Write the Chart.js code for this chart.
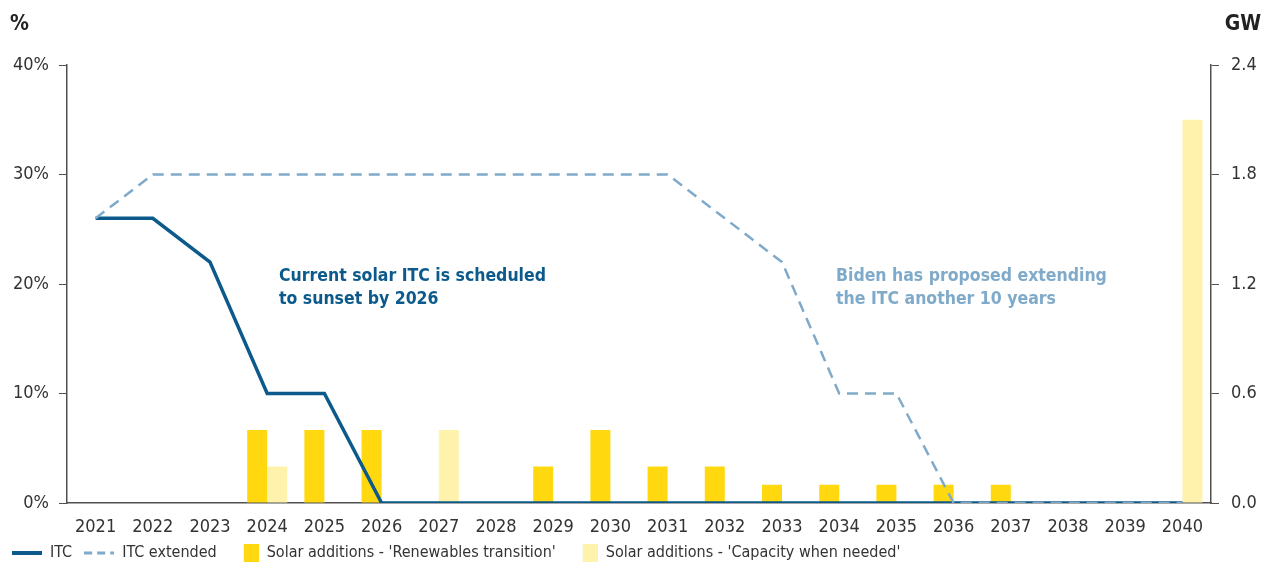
<!DOCTYPE html>
<html>
<head>
<meta charset="utf-8">
<script src="https://cdn.jsdelivr.net/npm/chart.js@4/dist/chart.umd.min.js"></script>
<style>
  html, body { margin: 0; padding: 0; background: #fff; }
  #wrap { width: 1264px; height: 562px; position: relative; }
</style>
</head>
<body>
<div id="wrap"><canvas id="chart"></canvas></div>
<script>
const years = ['2021', '2022', '2023', '2024', '2025', '2026', '2027', '2028', '2029', '2030',
               '2031', '2032', '2033', '2034', '2035', '2036', '2037', '2038', '2039', '2040'];
// ITC rate, %
const itc = [26, 26, 22, 10, 10, 0, 0, 0, 0, 0, 0, 0, 0, 0, 0, 0, 0, 0, 0, 0];
const itcExtended = [26, 30, 30, 30, 30, 30, 30, 30, 30, 30, 30, 26, 22, 10, 10, 0, 0, 0, 0, 0];
// solar additions, GW
const renewablesTransition = [0, 0, 0, 0.4, 0.4, 0.4, 0, 0, 0.2, 0.4, 0.2, 0.2, 0.1, 0.1, 0.1, 0.1, 0.1, 0, 0, 0];
const capacityWhenNeeded = [0, 0, 0, 0.2, 0, 0, 0.4, 0, 0, 0, 0, 0, 0, 0, 0, 0, 0, 0, 0, 2.1];
const pctTicks = [0, 10, 20, 30, 40];
const gwTicks = [0, 0.6, 1.2, 1.8, 2.4];

const FONT = "'Liberation Sans Narrow', 'DejaVu Sans Condensed', 'Roboto', sans-serif";
const DARK = '#0b5a8b';
const LIGHT = '#7faac9';
const YELLOW = '#ffd80f';
const PALE = '#fff2ad';
const AXIS = '#505050';

// small canvases used as legend markers
function marker(draw) {
    const c = document.createElement('canvas');
    c.width = 30;
    c.height = 18;
    draw(c.getContext('2d'));
    return c;
}
const lineMarker = (color, dash, width) => marker(g => {
    g.strokeStyle = color;
    g.lineWidth = width;
    g.setLineDash(dash);
    g.beginPath();
    g.moveTo(0, 9);
    g.lineTo(30, 9);
    g.stroke();
});
const boxMarker = color => marker(g => {
    g.fillStyle = color;
    g.fillRect(15, 0, 15, 18);
});

// axis units and the two notes
const notes = {
    id: 'notes',
    afterDraw(chart) {
        const ctx = chart.ctx;
        ctx.save();
        ctx.textBaseline = 'middle';
        ctx.font = 'bold 21px ' + FONT;
        ctx.fillStyle = '#222';
        ctx.textAlign = 'left';
        ctx.fillText('%', 10, 25);
        ctx.textAlign = 'right';
        ctx.fillText('GW', 1261, 25);

        ctx.textAlign = 'left';
        ctx.font = 'bold 17.5px ' + FONT;
        ctx.fillStyle = DARK;
        ctx.fillText('Current solar ITC is scheduled', 279, 276);
        ctx.fillText('to sunset by 2026', 279, 299);
        ctx.fillStyle = LIGHT;
        ctx.fillText('Biden has proposed extending', 836, 276);
        ctx.fillText('the ITC another 10 years', 836, 299);
        ctx.restore();
    }
};

new Chart(document.getElementById('chart'), {
    type: 'bar',
    data: {
        labels: years,
        datasets: [
            {
                type: 'line',
                label: 'ITC',
                data: itc,
                yAxisID: 'y',
                borderColor: DARK,
                backgroundColor: DARK,
                borderWidth: 3.5,
                pointRadius: 0,
                pointStyle: lineMarker(DARK, [], 4),
                tension: 0,
                order: 1
            },
            {
                type: 'line',
                label: 'ITC extended',
                data: itcExtended,
                yAxisID: 'y',
                borderColor: LIGHT,
                backgroundColor: LIGHT,
                borderWidth: 2.5,
                borderDash: [11, 7],
                pointRadius: 0,
                pointStyle: lineMarker(LIGHT, [8, 5], 3),
                tension: 0,
                order: 0
            },
            {
                label: "Solar additions - 'Renewables transition'",
                data: renewablesTransition,
                yAxisID: 'y2',
                backgroundColor: YELLOW,
                pointStyle: boxMarker(YELLOW),
                categoryPercentage: 0.7,
                barPercentage: 1,
                order: 2
            },
            {
                label: "Solar additions - 'Capacity when needed'",
                data: capacityWhenNeeded,
                yAxisID: 'y2',
                backgroundColor: PALE,
                pointStyle: boxMarker(PALE),
                categoryPercentage: 0.7,
                barPercentage: 1,
                order: 3
            }
        ]
    },
    options: {
        responsive: true,
        maintainAspectRatio: false,
        animation: false,
        layout: { padding: { top: 65, left: 0, right: 0, bottom: -9 } },
        plugins: {
            tooltip: { enabled: false },
            legend: {
                position: 'bottom',
                align: 'start',
                labels: {
                    usePointStyle: true,
                    pointStyleWidth: 30,
                    boxHeight: 16,
                    padding: 12,
                    color: '#333',
                    font: { family: FONT, size: 16 },
                    sort: (a, b) => a.datasetIndex - b.datasetIndex
                }
            }
        },
        scales: {
            x: {
                offset: true,
                afterFit: s => { s.height = 30; },
                grid: { display: false },
                border: { display: true, color: AXIS, width: 1.5 },
                ticks: { color: '#333', font: { family: FONT, size: 18 }, padding: 6, maxRotation: 0, autoSkip: false }
            },
            y: {
                position: 'left',
                min: 0,
                max: 40,
                afterBuildTicks: s => { s.ticks = pctTicks.map(v => ({ value: v })); },
                afterFit: s => { s.width = 67; },
                grid: { drawOnChartArea: false, drawTicks: true, tickLength: 8, color: AXIS },
                border: { display: true, color: AXIS, width: 1.5 },
                ticks: { color: '#333', font: { family: FONT, size: 18 }, padding: 10, callback: v => v + '%' }
            },
            y2: {
                position: 'right',
                min: 0,
                max: 2.4,
                afterBuildTicks: s => { s.ticks = gwTicks.map(v => ({ value: v })); },
                afterFit: s => { s.width = 53; },
                grid: { drawOnChartArea: false, drawTicks: true, tickLength: 8, color: AXIS },
                border: { display: true, color: AXIS, width: 1.5 },
                ticks: { color: '#333', font: { family: FONT, size: 18 }, padding: 12, callback: v => v.toFixed(1) }
            }
        }
    },
    plugins: [notes]
});
</script>
</body>
</html>
